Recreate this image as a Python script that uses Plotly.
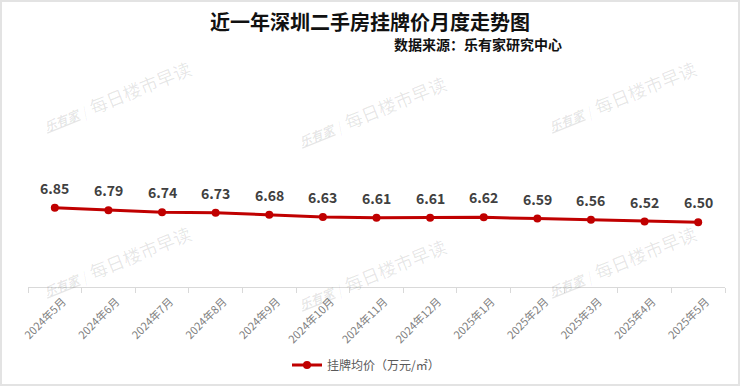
import plotly.graph_objects as go

months = ["2024年5月", "2024年6月", "2024年7月", "2024年8月", "2024年9月", "2024年10月",
          "2024年11月", "2024年12月", "2025年1月", "2025年2月", "2025年3月", "2025年4月", "2025年5月"]
prices = [6.85, 6.79, 6.74, 6.73, 6.68, 6.63, 6.61, 6.61, 6.62, 6.59, 6.56, 6.52, 6.50]
series_name = "挂牌均价（万元/㎡）"
title_text = "近一年深圳二手房挂牌价月度走势图"
source_text = "数据来源：乐有家研究中心"

W, H = 740, 386
ML, MR, MT, MB = 28, 15, 120, 99
PW, PH = W - ML - MR, H - MT - MB

def px(x):
    return (x - ML) / PW

def py(y):
    return (H - MB - y) / PH

FONT = "Noto Sans CJK SC, Microsoft YaHei, sans-serif"
RED = "#c00000"

fig = go.Figure()
fig.add_trace(go.Scatter(
    x=months, y=prices, mode="lines+markers", name=series_name,
    line=dict(color=RED, width=3),
    marker=dict(color=RED, size=8),
))

annotations = []
# watermarks
wm_color = "rgba(0,0,0,0.10)"
for cx, cy in [(140, 87), (395, 102), (645, 87), (140, 252), (395, 265), (645, 252)]:
    annotations.append(dict(x=px(cx), y=py(cy), xref="paper", yref="paper", text="每日楼市早读",
                            showarrow=False, textangle=-22, xanchor="center", yanchor="middle",
                            font=dict(family=FONT, size=18, color=wm_color)))
    annotations.append(dict(x=px(cx - 78), y=py(cy + 32), xref="paper", yref="paper",
                            text="<b><i><u>乐有家</u></i></b>",
                            showarrow=False, textangle=-22, xanchor="center", yanchor="middle",
                            font=dict(family=FONT, size=12, color=wm_color)))
    annotations.append(dict(x=px(cx - 55), y=py(cy + 24), xref="paper", yref="paper", text="|",
                            showarrow=False, textangle=-10, xanchor="center", yanchor="middle",
                            font=dict(family=FONT, size=14, color="rgba(0,0,0,0.06)")))

# data labels
for m, p in zip(months, prices):
    annotations.append(dict(x=m, y=p, xref="x", yref="y", text=f"{p:.2f}", showarrow=False,
                            yshift=20, font=dict(family=FONT, size=14, color="#404040", weight="bold")))

annotations.append(dict(x=px(370), y=py(21), xref="paper", yref="paper", text=f"<b>{title_text}</b>",
                        showarrow=False, xanchor="center", yanchor="middle",
                        font=dict(family=FONT, size=20, color="#111111")))
annotations.append(dict(x=px(564), y=py(44), xref="paper", yref="paper", text=f"<b>{source_text}</b>",
                        showarrow=False, xanchor="right", yanchor="middle",
                        font=dict(family=FONT, size=14, color="#111111")))

fig.update_layout(
    width=W, height=H,
    margin=dict(l=ML, r=MR, t=MT, b=MB, autoexpand=False),
    paper_bgcolor="white", plot_bgcolor="white",
    showlegend=True,
    legend=dict(orientation="h", x=px(366), xanchor="center", y=py(365), yanchor="middle",
                font=dict(family=FONT, size=12, color="#595959"), itemwidth=30),
    xaxis=dict(type="category", range=[-0.5, len(months) - 0.5], showgrid=False,
               showline=True, linecolor="#d9d9d9", linewidth=1, automargin=False,
               ticks="outside", tickson="boundaries", ticklen=5, tickcolor="#d9d9d9",
               tickangle=-45, tickfont=dict(family=FONT, size=11, color="#7f7f7f"),
               ticklabelshift=8, ticklabelstandoff=3,
               zeroline=False),
    yaxis=dict(range=[4.95, 8.955], visible=False, showgrid=False, zeroline=False, automargin=False),
    annotations=annotations,
    shapes=[dict(type="rect", xref="paper", yref="paper", x0=px(1), x1=px(739), y0=py(1), y1=py(385),
                 line=dict(color="#e3e3e3", width=2), layer="below")],
)

fig.write_html("out.html", config={"displayModeBar": False},
               post_script="document.body.style.margin='0';document.body.style.overflow='hidden';")
